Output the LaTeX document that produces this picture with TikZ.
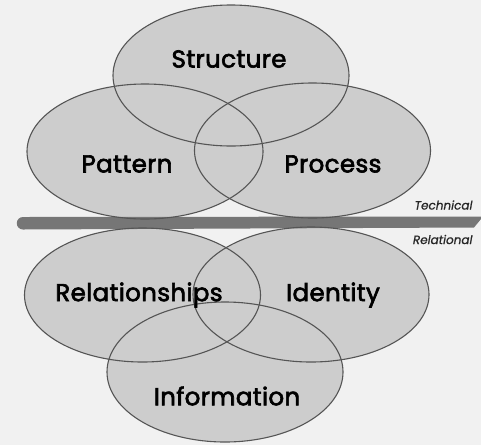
\documentclass[tikz,border=0pt]{standalone}
\usepackage{fontspec}
\setmainfont{Poppins}
\begin{document}
\begin{tikzpicture}[x=1pt,y=-1pt,
  circline/.style={draw=linegray,line width=1.1pt},
  lbl/.style={font=\fontsize{24.5}{26}\selectfont\addfontfeatures{FakeBold=2.6,LetterSpace=1.5},text=black},
  side/.style={font=\fontsize{12}{13}\selectfont\itshape\addfontfeatures{FakeBold=0.8},text=black!85,anchor=east}]
\definecolor{ellgray}{HTML}{CDCDCD}
\definecolor{linegray}{HTML}{555555}
\definecolor{bggray}{HTML}{F1F1F1}
\definecolor{bargray}{HTML}{767676}
\useasboundingbox (0,0) rectangle (481,445);
\fill[bggray] (0,0) rectangle (481,445);
% centres
\coordinate (cS) at (231,75.5);
\coordinate (cPa) at (145,151.5);
\coordinate (cPr) at (312.5,150.5);
\coordinate (cR) at (142.5,295);
\coordinate (cI) at (311,294.5);
\coordinate (cN) at (225,372);
% fills
\foreach \c/\ry in {cS/70.5,cPa/67.5,cPr/67.5,cR/67,cI/67.5,cN/70}
  \fill[ellgray] (\c) ellipse [x radius=118,y radius=\ry];
% bar
\fill[bargray] (23,217) -- (481,216.5) -- (481,219) -- (474,227.5) -- (23,229.5)
  arc[start angle=90,end angle=270,radius=6.25] -- cycle;
% outlines
\foreach \c/\ry in {cS/70.5,cPa/67.5,cPr/67.5,cR/67,cI/67.5,cN/70}
  \draw[circline] (\c) ellipse [x radius=118,y radius=\ry];
% labels
\node[lbl] (structure) at (229,59) {Structure};
\node[lbl] (pattern) at (127,164) {Pattern};
\node[lbl] (process) at (333,164) {Process};
\node[lbl] (relationships) at (139,295) {Relationships};
\node[lbl] (identity) at (333,295) {Identity};
\node[lbl] (information) at (227,396) {Information};
\node[side] (technical) at (476,205) {Technical};
\node[side] (relational) at (476,239.5) {Relational};
\end{tikzpicture}
\end{document}
